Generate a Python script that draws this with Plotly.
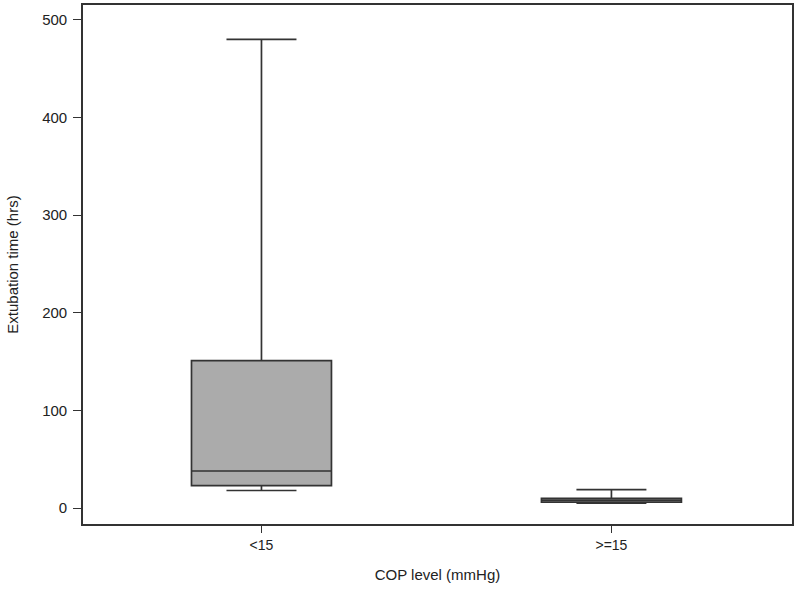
import plotly.graph_objects as go

# Data
groups = ['<15', '>=15']
lower = [18, 5]
q1 = [23, 6]
median = [38, 8]
q3 = [151, 10]
upper = [480, 19]

fig = go.Figure(go.Box(
    x=groups,
    q1=q1,
    median=median,
    q3=q3,
    lowerfence=lower,
    upperfence=upper,
    boxpoints=False,
    width=0.4,
    whiskerwidth=0.5,
    fillcolor="#ababab",
    line=dict(color="#333333", width=1.7),
    showlegend=False,
))

fig.update_layout(
    width=797,
    height=590,
    margin=dict(l=83, r=3, t=3, b=66),
    paper_bgcolor="white",
    plot_bgcolor="white",
    font=dict(family="Liberation Sans, Arial", size=15, color="#222222"),
    xaxis=dict(
        title=dict(text="COP level (mmHg)", font=dict(size=15), standoff=18),
        range=[-0.51, 1.516],
        showline=True, mirror=True, linecolor="#333333", linewidth=1.6,
        ticks="outside", ticklen=7, tickcolor="#333333",
        tickfont=dict(size=14),
        showgrid=False, zeroline=False,
    ),
    yaxis=dict(
        title=dict(text="Extubation time (hrs)", font=dict(size=15), standoff=20),
        range=[-16.3, 515.3],
        tickvals=[0, 100, 200, 300, 400, 500],
        showline=True, mirror=True, linecolor="#333333", linewidth=1.6,
        ticks="outside", ticklen=8, tickcolor="#333333",
        ticklabelstandoff=3,
        showgrid=False, zeroline=False,
    ),
)

# drop the default page margin so the figure sits at the window's corner
fig.write_html("out.html", config={"displayModeBar": False},
               post_script="document.body.style.margin='0';")
